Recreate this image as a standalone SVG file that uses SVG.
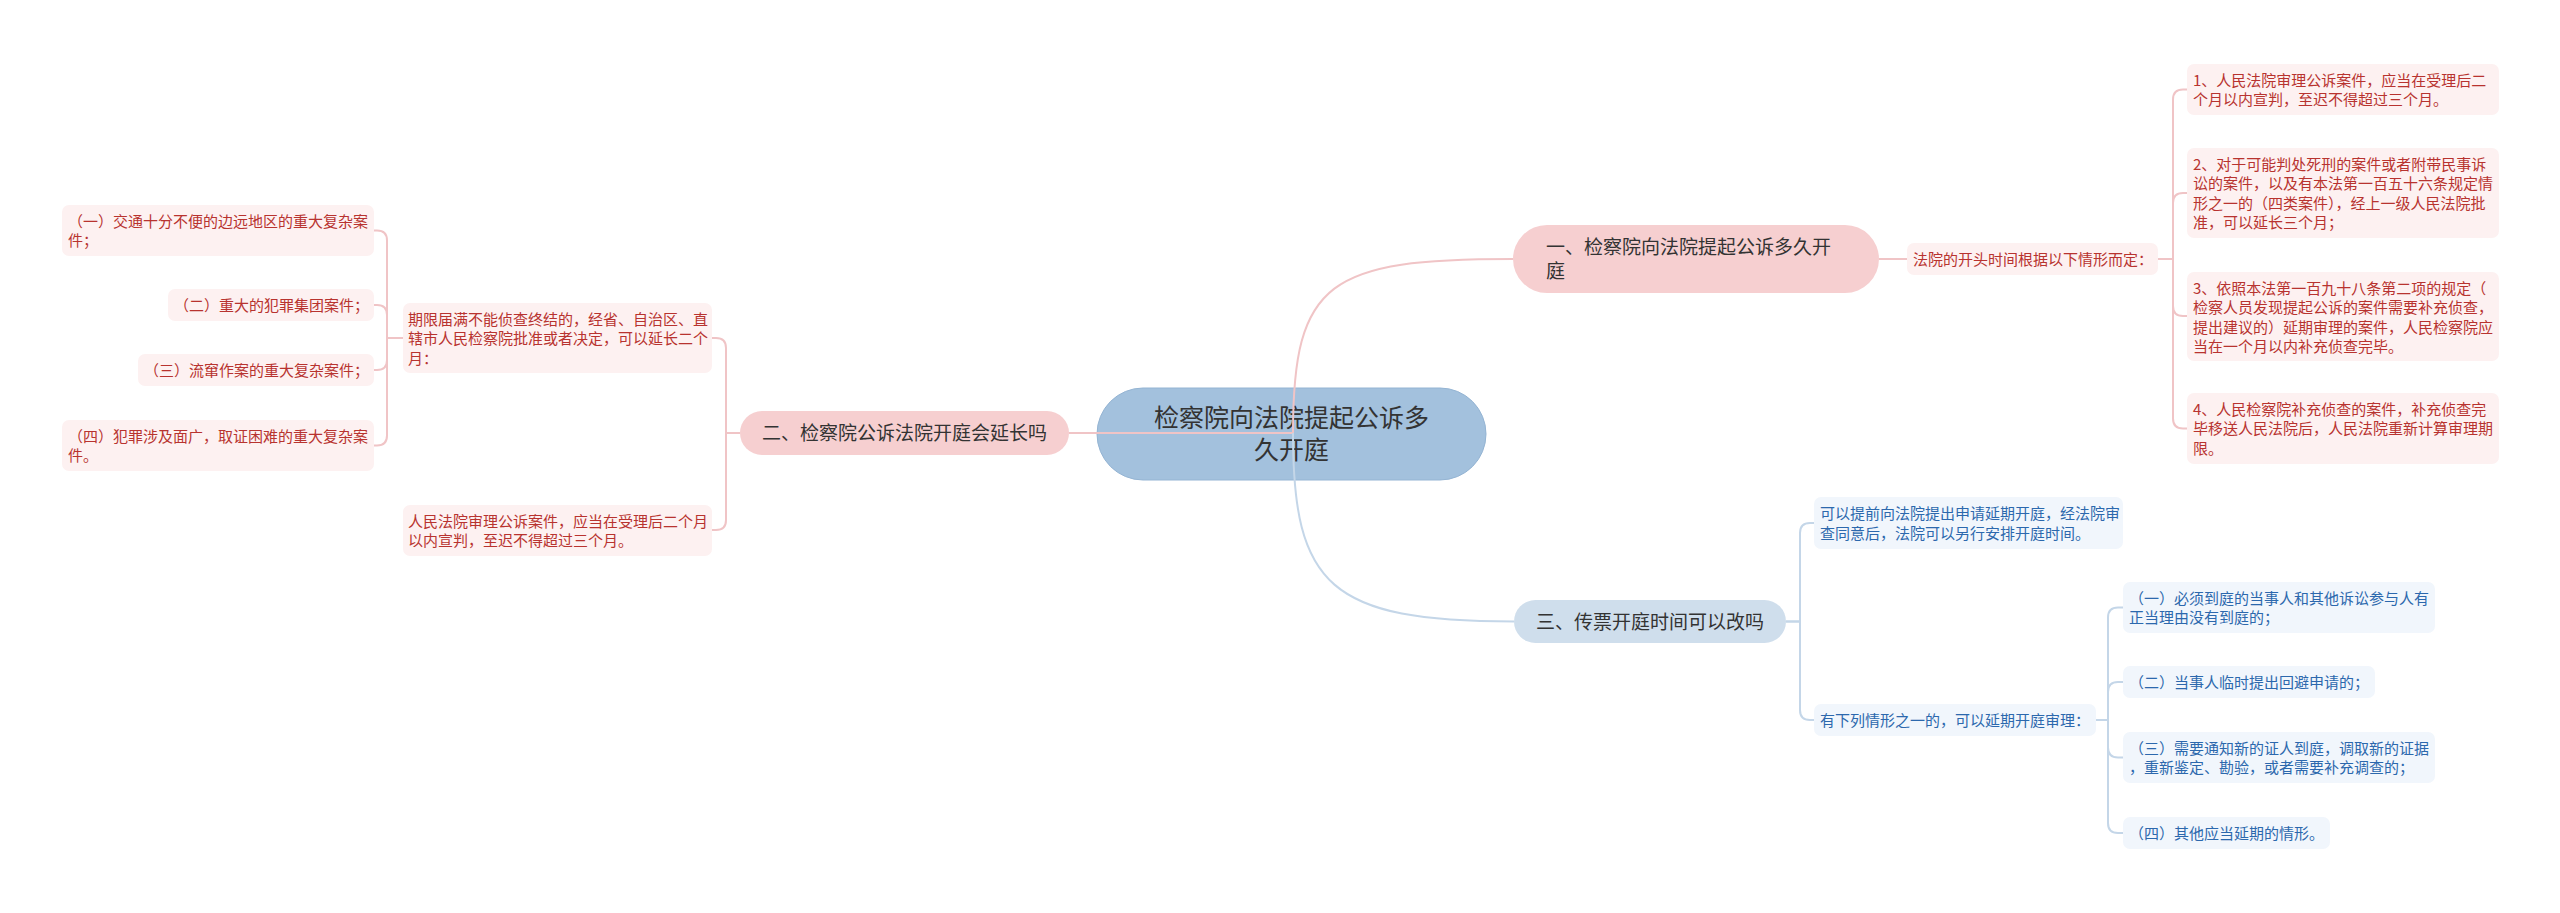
<svg xmlns="http://www.w3.org/2000/svg" width="2560" height="913" viewBox="0 0 2560 913">
<style>
text{font-family:"Noto Sans CJK SC","Noto Sans",sans-serif;}
.root{fill:#a3c1dd;stroke:#94b4d3;stroke-width:1}
.rootT{font-size:25px;fill:#333;text-anchor:middle}
.p1{fill:#f6cfd0}
.b1{fill:#cfdeec}
.t1{font-size:19px;fill:#333}
.pl{fill:#fdf1f1}
.bl{fill:#f1f6fc}
.pt{font-size:15px;fill:#b8332f}
.bt{font-size:15px;fill:#2c68ad}
.cp{fill:none;stroke:#f0c4c6;stroke-width:2}
.cb{fill:none;stroke:#c4d6e8;stroke-width:2}
</style>
<rect width="2560" height="913" fill="#fff"/>
<g id="root">
<rect class="root" x="1097" y="388" width="389" height="92" rx="46"/>
<text class="rootT" x="1291.5" y="427">检察院向法院提起公诉多</text>
<text class="rootT" x="1291.5" y="459">久开庭</text>
</g>
<g id="connectors">
<path class="cp" d="M1293,433 H1069"/>
<path class="cp" d="M1293,433 C1293,280 1330,259 1513,259"/>
<path class="cb" d="M1293,433 C1293,586 1330,621.5 1514,621.5"/>
<path class="cp" d="M1879,259 H1907"/>
<path class="cp" d="M2158,259 H2173 V99.5 Q2173,89.5 2183,89.5 H2187"/>
<path class="cp" d="M2158,259 H2173 V203 Q2173,193 2183,193 H2187"/>
<path class="cp" d="M2158,259 H2173 V306 Q2173,316 2183,316 H2187"/>
<path class="cp" d="M2158,259 H2173 V418.5 Q2173,428.5 2183,428.5 H2187"/>
<path class="cp" d="M740,433 H726 V348 Q726,338 716,338 H711"/>
<path class="cp" d="M740,433 H726 V520 Q726,530 716,530 H712"/>
<path class="cp" d="M403,338 H387 V240.5 Q387,230.5 377,230.5 H374"/>
<path class="cp" d="M403,338 H387 V315 Q387,305 377,305 H374"/>
<path class="cp" d="M403,338 H387 V360 Q387,370 377,370 H374"/>
<path class="cp" d="M403,338 H387 V435.5 Q387,445.5 377,445.5 H374"/>
<path class="cb" d="M1786,621.5 H1800 V533 Q1800,523 1810,523 H1814"/>
<path class="cb" d="M1786,621.5 H1800 V710 Q1800,720 1810,720 H1814"/>
<path class="cb" d="M2096,720 H2108 V617.5 Q2108,607.5 2118,607.5 H2123"/>
<path class="cb" d="M2096,720 H2108 V692 Q2108,682 2118,682 H2123"/>
<path class="cb" d="M2096,720 H2108 V747.5 Q2108,757.5 2118,757.5 H2123"/>
<path class="cb" d="M2096,720 H2108 V823 Q2108,833 2118,833 H2123"/>
</g>
<g id="n1">
<rect class="p1" x="1513" y="225" width="366" height="68" rx="34"/>
<text class="t1" x="1546" y="254">一、检察院向法院提起公诉多久开</text>
<text class="t1" x="1546" y="278">庭</text>
</g>
<g id="n1a">
<rect class="pl" x="1907" y="243" width="251" height="32" rx="7"/>
<text class="pt" x="1913" y="264.7">法院的开头时间根据以下情形而定：</text>
</g>
<g id="n1a1">
<rect class="pl" x="2187" y="64" width="312" height="51" rx="7"/>
<text class="pt" x="2193" y="85.5">1、人民法院审理公诉案件，应当在受理后二</text>
<text class="pt" x="2193" y="105">个月以内宣判，至迟不得超过三个月。</text>
</g>
<g id="n1a2">
<rect class="pl" x="2187" y="148" width="312" height="90" rx="7"/>
<text class="pt" x="2193" y="169.5">2、对于可能判处死刑的案件或者附带民事诉</text>
<text class="pt" x="2193" y="189">讼的案件，以及有本法第一百五十六条规定情</text>
<text class="pt" x="2193" y="208.5">形之一的（四类案件），经上一级人民法院批</text>
<text class="pt" x="2193" y="228">准，可以延长三个月；</text>
</g>
<g id="n1a3">
<rect class="pl" x="2187" y="272" width="312" height="89" rx="7"/>
<text class="pt" x="2193" y="293.5">3、依照本法第一百九十八条第二项的规定（</text>
<text class="pt" x="2193" y="313">检察人员发现提起公诉的案件需要补充侦查，</text>
<text class="pt" x="2193" y="332.5">提出建议的）延期审理的案件，人民检察院应</text>
<text class="pt" x="2193" y="352">当在一个月以内补充侦查完毕。</text>
</g>
<g id="n1a4">
<rect class="pl" x="2187" y="393" width="312" height="71" rx="7"/>
<text class="pt" x="2193" y="414.5">4、人民检察院补充侦查的案件，补充侦查完</text>
<text class="pt" x="2193" y="434">毕移送人民法院后，人民法院重新计算审理期</text>
<text class="pt" x="2193" y="453.5">限。</text>
</g>
<g id="n2">
<rect class="p1" x="740" y="411" width="329" height="44" rx="22"/>
<text class="t1" x="904.5" y="440" text-anchor="middle">二、检察院公诉法院开庭会延长吗</text>
</g>
<g id="n2a">
<rect class="pl" x="403" y="303" width="309" height="70" rx="7"/>
<text class="pt" x="408" y="324.5">期限届满不能侦查终结的，经省、自治区、直</text>
<text class="pt" x="408" y="344">辖市人民检察院批准或者决定，可以延长二个</text>
<text class="pt" x="408" y="363.5">月：</text>
</g>
<g id="n2a1">
<rect class="pl" x="62" y="205" width="312" height="51" rx="7"/>
<text class="pt" x="68" y="226.5">（一）交通十分不便的边远地区的重大复杂案</text>
<text class="pt" x="68" y="246">件；</text>
</g>
<g id="n2a2">
<rect class="pl" x="168" y="289" width="206" height="32" rx="7"/>
<text class="pt" x="174" y="310.7">（二）重大的犯罪集团案件；</text>
</g>
<g id="n2a3">
<rect class="pl" x="138" y="354" width="236" height="32" rx="7"/>
<text class="pt" x="144" y="375.7">（三）流窜作案的重大复杂案件；</text>
</g>
<g id="n2a4">
<rect class="pl" x="62" y="420" width="312" height="51" rx="7"/>
<text class="pt" x="68" y="441.5">（四）犯罪涉及面广，取证困难的重大复杂案</text>
<text class="pt" x="68" y="461">件。</text>
</g>
<g id="n2b">
<rect class="pl" x="403" y="505" width="309" height="51" rx="7"/>
<text class="pt" x="408" y="526.5">人民法院审理公诉案件，应当在受理后二个月</text>
<text class="pt" x="408" y="546">以内宣判，至迟不得超过三个月。</text>
</g>
<g id="n3">
<rect class="b1" x="1514" y="600" width="272" height="43" rx="21.5"/>
<text class="t1" x="1650" y="629" text-anchor="middle">三、传票开庭时间可以改吗</text>
</g>
<g id="n3a">
<rect class="bl" x="1814" y="497" width="309" height="52" rx="7"/>
<text class="bt" x="1820" y="519">可以提前向法院提出申请延期开庭，经法院审</text>
<text class="bt" x="1820" y="538.5">查同意后，法院可以另行安排开庭时间。</text>
</g>
<g id="n3b">
<rect class="bl" x="1814" y="704" width="282" height="32" rx="7"/>
<text class="bt" x="1820" y="725.7">有下列情形之一的，可以延期开庭审理：</text>
</g>
<g id="n3b1">
<rect class="bl" x="2123" y="582" width="312" height="51" rx="7"/>
<text class="bt" x="2129" y="603.5">（一）必须到庭的当事人和其他诉讼参与人有</text>
<text class="bt" x="2129" y="623">正当理由没有到庭的；</text>
</g>
<g id="n3b2">
<rect class="bl" x="2123" y="666" width="252" height="32" rx="7"/>
<text class="bt" x="2129" y="687.7">（二）当事人临时提出回避申请的；</text>
</g>
<g id="n3b3">
<rect class="bl" x="2123" y="732" width="312" height="51" rx="7"/>
<text class="bt" x="2129" y="753.5">（三）需要通知新的证人到庭，调取新的证据</text>
<text class="bt" x="2129" y="773">，重新鉴定、勘验，或者需要补充调查的；</text>
</g>
<g id="n3b4">
<rect class="bl" x="2123" y="817" width="207" height="32" rx="7"/>
<text class="bt" x="2129" y="838.7">（四）其他应当延期的情形。</text>
</g>
</svg>
